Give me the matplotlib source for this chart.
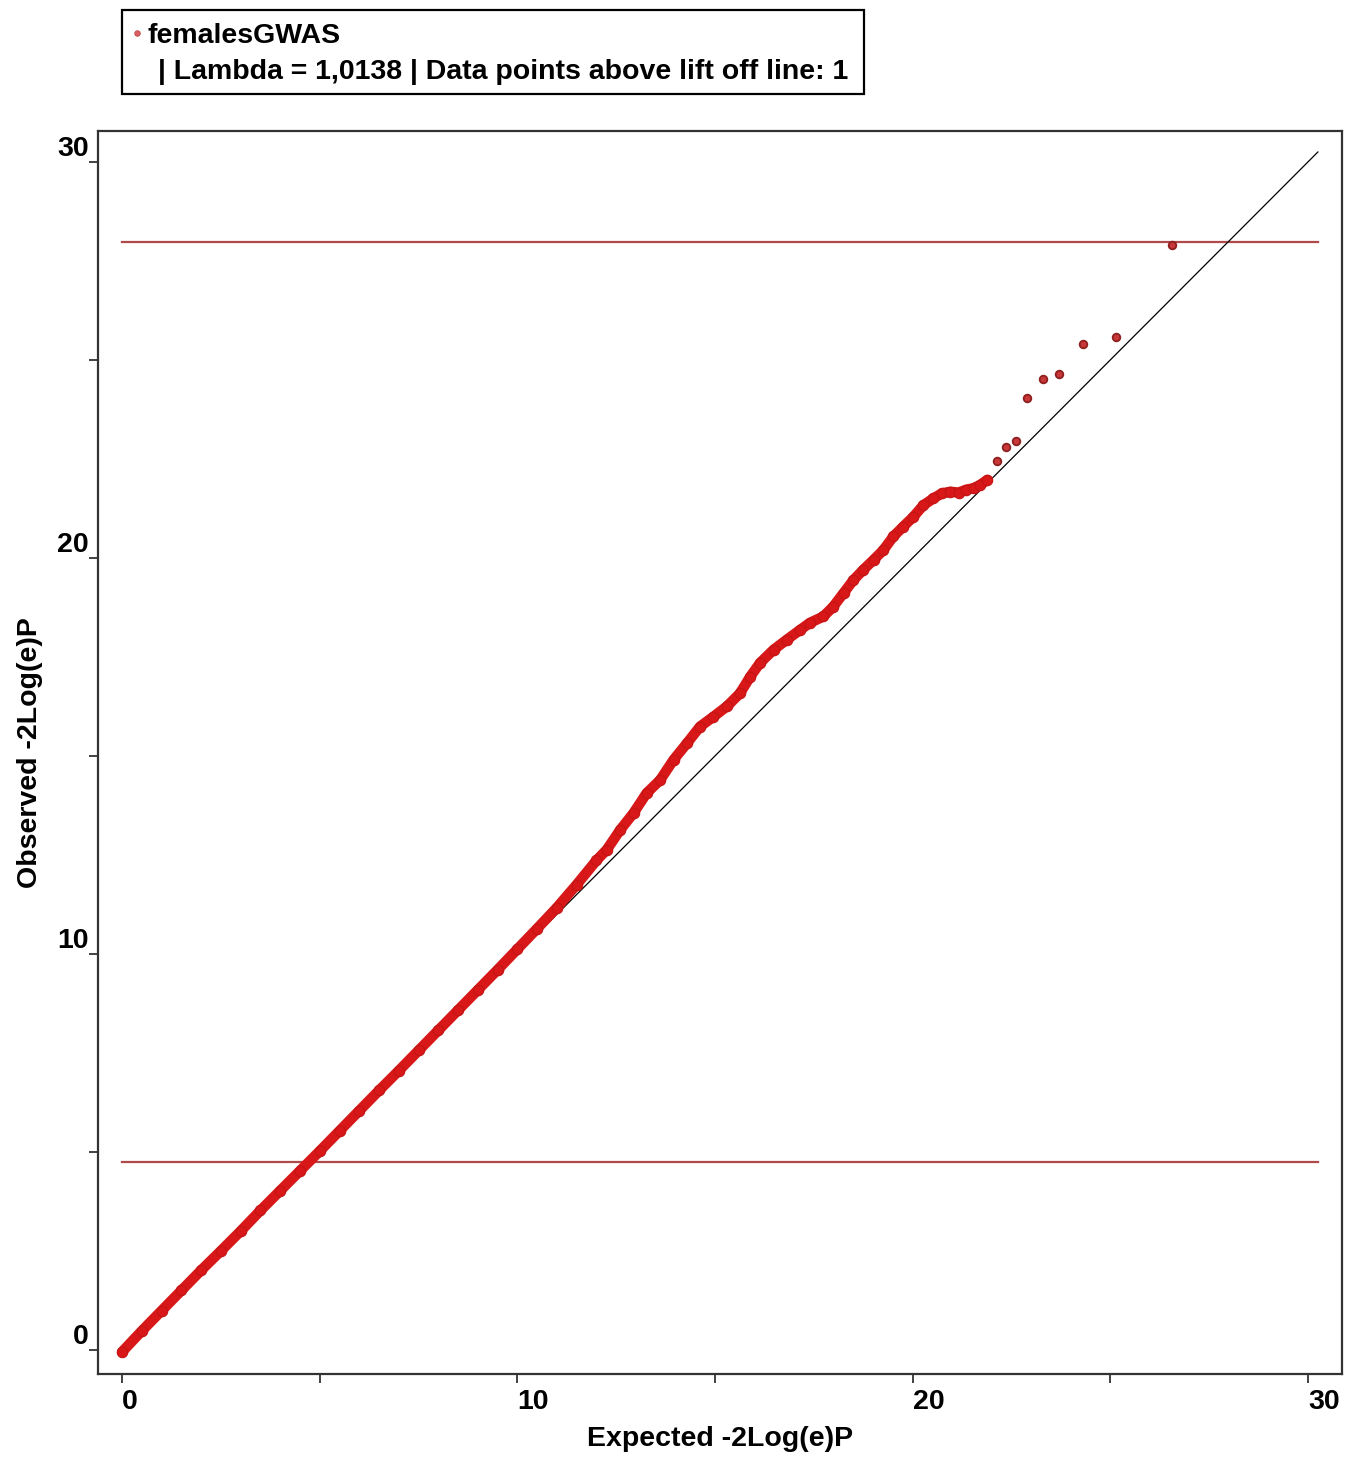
import matplotlib
matplotlib.use("Agg")
import matplotlib.pyplot as plt
from matplotlib.patches import Rectangle
from matplotlib.lines import Line2D
from matplotlib.ticker import MultipleLocator

plt.rcParams['font.family'] = ['Liberation Sans', 'DejaVu Sans']
plt.rcParams['font.weight'] = 'bold'

W, H = 1356, 1459

# QQ plot values (expected vs observed -2Log(e)P)
exp_band = [0.0, 0.5, 1.0, 1.5, 2.0, 2.5, 3.0, 3.5, 4.0, 4.5, 5.0, 5.5, 6.0,
            6.5, 7.0, 7.5, 8.0, 8.5, 9.0, 9.5, 10.0, 10.5, 11.0, 11.5, 12.0,
            12.26, 12.60, 12.94, 13.27, 13.61, 13.95, 14.29, 14.62, 14.96,
            15.30, 15.63, 15.89, 16.14, 16.48, 16.81, 17.15, 17.40, 17.74,
            17.99, 18.25, 18.50, 18.75, 19.01, 19.26, 19.51, 19.76, 20.02,
            20.27, 20.52, 20.74, 20.95, 21.16, 21.35, 21.54, 21.70, 21.89]
obs_band = [-0.05, 0.48, 0.99, 1.50, 2.01, 2.50, 3.00, 3.52, 4.02, 4.52, 5.02,
            5.53, 6.04, 6.55, 7.05, 7.56, 8.07, 8.58, 9.09, 9.60, 10.12, 10.64,
            11.17, 11.75, 12.36, 12.63, 13.13, 13.56, 14.06, 14.39, 14.90,
            15.32, 15.74, 15.99, 16.25, 16.58, 17.00, 17.35, 17.68, 17.93,
            18.18, 18.36, 18.52, 18.77, 19.11, 19.44, 19.70, 19.95, 20.20,
            20.54, 20.79, 21.04, 21.33, 21.50, 21.63, 21.67, 21.65, 21.72,
            21.76, 21.84, 21.97]
exp_tail = [22.13, 22.36, 22.61, 22.90, 23.29, 23.71, 24.32, 25.15, 26.55]
obs_tail = [22.45, 22.79, 22.94, 24.03, 24.51, 24.65, 25.39, 25.59, 27.90]

lift_off = 27.98
lower_line = 4.75
diag_max = 30.25

legend_name = "femalesGWAS"
legend_info = "| Lambda = 1,0138 | Data points above lift off line: 1"

red = '#d81818'
dark_red = '#8e2020'
line_col = '#b04a4a'

fig = plt.figure(figsize=(W / 100, H / 100), dpi=100)
ax = fig.add_axes([98 / W, (H - 1374) / H, (1342 - 98) / W, (1374 - 131) / H])

ax.plot([0, diag_max], [lift_off, lift_off], color=line_col, lw=1.6, zorder=2)
ax.plot([0, diag_max], [lower_line, lower_line], color=line_col, lw=1.6, zorder=2)
ax.plot([0, diag_max], [0, diag_max], color='black', lw=0.9, zorder=3)

ax.plot(exp_band, obs_band, '-', color=red, lw=7.5, solid_capstyle='round', zorder=4)
ax.plot(exp_band, obs_band, 'o', ms=7.5, mfc=red, mec='#c41414', mew=0.8, zorder=4)
ax.plot(exp_tail, obs_tail, 'o', ms=5.5, mfc='#c83838', mec=dark_red, mew=1.3, zorder=5)

ax.set_xlim(-0.61, 30.86)
ax.set_ylim(-0.61, 30.78)

for axis in (ax.xaxis, ax.yaxis):
    axis.set_major_locator(MultipleLocator(10))
    axis.set_minor_locator(MultipleLocator(5))
ax.tick_params(which='both', length=6.5, width=1.3, color='#333333', direction='out')
ax.tick_params(axis='x', which='major', pad=4, labelsize=20.5)
ax.tick_params(axis='y', which='major', pad=0, labelsize=20.5)
for tl in ax.get_xticklabels():
    tl.set_ha('left')
for tl in ax.get_yticklabels():
    tl.set_va('bottom')

for sp in ax.spines.values():
    sp.set_color('#333333')
    sp.set_linewidth(1.6)

ax.set_xlabel("Expected -2Log(e)P", fontsize=20.5, fontweight='bold', labelpad=8)
ax.set_ylabel("Observed -2Log(e)P", fontsize=20.5, fontweight='bold', labelpad=10)

# legend box above the plot
fig.patches.append(Rectangle((122 / W, (H - 94) / H), (864 - 122) / W, 84 / H,
                             transform=fig.transFigure, fill=False,
                             edgecolor='black', lw=1.6))
fig.add_artist(Line2D([137 / W], [(H - 33) / H], transform=fig.transFigure,
                      marker='o', ms=4, mfc='#d86060', mec='#c04848', mew=0.6))
fig.text(147 / W, (H - 36) / H, legend_name, fontsize=20.5, fontweight='bold',
         ha='left', va='center')
fig.text(158 / W, (H - 72) / H, legend_info, fontsize=20.5, fontweight='bold',
         ha='left', va='center')

fig.savefig("out.png", dpi=100)
